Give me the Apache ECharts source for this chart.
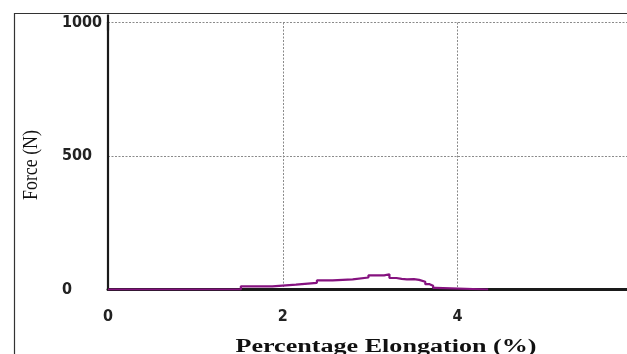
<!DOCTYPE html>
<html>
<head>
<meta charset="utf-8">
<script src="https://cdn.jsdelivr.net/npm/echarts@6/dist/echarts.min.js"></script>
<style>
html,body{margin:0;padding:0;background:#fff;}
#chart{width:627px;height:354px;}
</style>
</head>
<body>
<div id="chart"></div>
<script>
// Percentage elongation (%) at the start of each horizontal step
const elongation = [0, 1.52, 1.88, 2.15, 2.39, 2.57, 2.80, 2.98, 3.16, 3.22, 3.30, 3.36, 3.42, 3.50, 3.56, 3.63, 3.68, 3.72, 3.75, 4.35];
// Force (N) held over each step
const force =      [0, 12,   18,   25,   34,   38,   45,   53,   57,   43,   40,   38,   39,   36,   29,   20,   14,   6,    0,    0];
const xTicks = [0, 2, 4, 6];
const yTicks = [0, 500, 1000];
const xTitle = 'Percentage Elongation (%)';
const yTitle = 'Force (N)';

// build staircase: horizontal at previous force, then vertical jump
const stepData = [];
elongation.forEach((x, i) => {
  if (i > 0) stepData.push([x, force[i - 1]]);
  stepData.push([x, force[i]]);
});

const chart = echarts.init(document.getElementById('chart'), null, {renderer: 'canvas'});
const tickFont = '"DejaVu Sans Condensed", "Liberation Sans Narrow", sans-serif';
const opt = {
  animation: false,
  backgroundColor: '#fff',
  grid: {left: 108, top: 22.5, right: -5.4, bottom: 64.5, outerBoundsMode: 'none', containLabel: false},
  xAxis: {
    type: 'value', min: xTicks[0], max: xTicks[xTicks.length - 1], interval: xTicks[1] - xTicks[0],
    axisLine: {show: true, onZero: false, lineStyle: {color: '#1a1a1a', width: 3}},
    axisTick: {show: false},
    axisLabel: {color: '#222', fontFamily: tickFont, fontWeight: 'bold', fontSize: 16, margin: 19, showMaxLabel: true,
      formatter: v => String(v)},
    splitLine: {show: true, lineStyle: {color: '#8a8a8a', width: 1, type: [2, 1.5]}}
  },
  yAxis: {
    type: 'value', min: yTicks[0], max: yTicks[yTicks.length - 1], interval: yTicks[1] - yTicks[0],
    axisLine: {show: true, symbol: ['none', 'rect'], symbolSize: [2.2, 16], lineStyle: {color: '#1a1a1a', width: 2.2}},
    axisTick: {show: false},
    axisLabel: {color: '#222', fontFamily: tickFont, fontWeight: 'bold', fontSize: 16, margin: 46, align: 'left',
      formatter: v => String(v)},
    splitLine: {show: true, lineStyle: {color: '#8a8a8a', width: 1, type: [2, 1.5]}}
  },
  series: [{
    type: 'line',
    data: stepData,
    symbol: 'none',
    sampling: null,
    lineStyle: {color: '#85127f', width: 2.2},
    z: 5
  }],
  graphic: [
    {type: 'rect', left: 12, top: 11, shape: {width: 800, height: 500}, style: {fill: 'none', stroke: '#333', lineWidth: 1.2}, z: -1, silent: true},
    {type: 'text', x: 31, y: 165, rotation: Math.PI / 2, scaleX: 0.85,
      style: {text: yTitle, font: '21px "Liberation Serif", "Times New Roman", serif', fill: '#111', align: 'center', verticalAlign: 'middle'}},
    {type: 'text', x: 386, y: 347, scaleX: 1.45,
      style: {text: xTitle, font: 'bold 18px "Liberation Serif", "Times New Roman", serif', fill: '#111', align: 'center', verticalAlign: 'middle'}}
  ]
};
chart.setOption(opt);
</script>
</body>
</html>
